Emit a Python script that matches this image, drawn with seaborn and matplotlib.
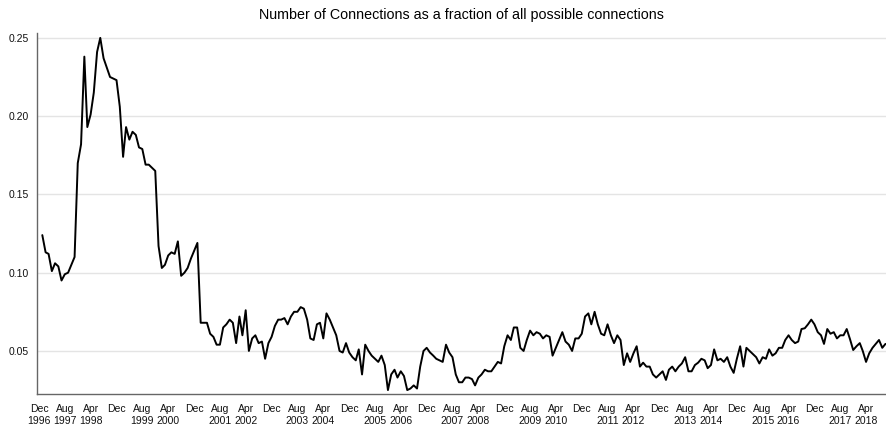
import matplotlib
matplotlib.use("Agg")
import matplotlib.pyplot as plt
import numpy as np
import pandas as pd
import seaborn as sns

# Monthly share of realised connections, Jan 1997 - Oct 2018
start_month = "1997-01-01"
fraction = [
    0.124, 0.113, 0.112, 0.101, 0.106, 0.104, 0.095, 0.099, 0.100, 0.105, 0.110, 0.170,
    0.182, 0.238, 0.193, 0.201, 0.215, 0.241, 0.250, 0.237, 0.231, 0.225, 0.224, 0.223,
    0.206, 0.174, 0.193, 0.185, 0.190, 0.188, 0.180, 0.179, 0.169, 0.169, 0.167, 0.165,
    0.117, 0.103, 0.105, 0.111, 0.113, 0.112, 0.120, 0.098, 0.100, 0.103, 0.109, 0.114,
    0.119, 0.068, 0.068, 0.068, 0.061, 0.059, 0.054, 0.054, 0.065, 0.067, 0.070, 0.068,
    0.055, 0.072, 0.060, 0.076, 0.050, 0.058, 0.060, 0.055, 0.056, 0.045, 0.055, 0.059,
    0.066, 0.070, 0.070, 0.071, 0.067, 0.072, 0.075, 0.075, 0.078, 0.077, 0.070, 0.058,
    0.057, 0.067, 0.068, 0.058, 0.074, 0.070, 0.065, 0.060, 0.050, 0.049, 0.055, 0.049,
    0.046, 0.044, 0.051, 0.035, 0.054, 0.050, 0.047, 0.045, 0.043, 0.047, 0.041, 0.025,
    0.035, 0.038, 0.033, 0.037, 0.034, 0.025, 0.026, 0.028, 0.026, 0.040, 0.050, 0.052,
    0.049, 0.047, 0.045, 0.044, 0.043, 0.054, 0.049, 0.046, 0.035, 0.030, 0.030, 0.033,
    0.033, 0.032, 0.028, 0.033, 0.035, 0.038, 0.037, 0.037, 0.040, 0.043, 0.042, 0.053,
    0.060, 0.057, 0.065, 0.065, 0.052, 0.050, 0.057, 0.063, 0.060, 0.062, 0.061, 0.058,
    0.060, 0.059, 0.047, 0.052, 0.057, 0.062, 0.056, 0.054, 0.050, 0.058, 0.058, 0.061,
    0.072, 0.074, 0.067, 0.075, 0.067, 0.061, 0.060, 0.067, 0.060, 0.055, 0.060, 0.057,
    0.041, 0.0485, 0.043, 0.0485, 0.053, 0.040, 0.0425, 0.040, 0.040, 0.035, 0.033, 0.035,
    0.037, 0.0315, 0.038, 0.040, 0.037, 0.040, 0.042, 0.046, 0.037, 0.037, 0.041, 0.0425,
    0.045, 0.044, 0.039, 0.041, 0.051, 0.044, 0.045, 0.043, 0.046, 0.040, 0.036, 0.045,
    0.053, 0.040, 0.052, 0.050, 0.048, 0.046, 0.042, 0.046, 0.045, 0.051, 0.047, 0.0485,
    0.052, 0.052, 0.057, 0.060, 0.057, 0.055, 0.056, 0.064, 0.0645, 0.067, 0.070, 0.067,
    0.062, 0.060, 0.0545, 0.064, 0.061, 0.062, 0.058, 0.060, 0.060, 0.064, 0.0575, 0.0506,
    0.053, 0.055, 0.050, 0.043, 0.0485, 0.052, 0.0545, 0.057, 0.052, 0.0545,
]
y_ticks = [0.05, 0.10, 0.15, 0.20, 0.25]
title = "Number of Connections as a fraction of all possible connections"

df = pd.DataFrame({
    "month": pd.date_range(start_month, periods=len(fraction), freq="MS"),
    "fraction": fraction,
})

sns.set_style("white")
plt.rcParams["font.family"] = ["Liberation Sans", "DejaVu Sans"]

fig = plt.figure(figsize=(8.86, 4.26), dpi=100)
ax = fig.add_axes([37 / 886, 32 / 426, 849 / 886, 361 / 426])

sns.lineplot(data=df, x="month", y="fraction", ax=ax, color="black", linewidth=1.4)

# x ticks every eight months, year shown on the first tick of each year
tick_dates = pd.date_range("1996-12-01", "2018-10-01", freq="8MS")
labels = []
prev_year = None
for d in tick_dates:
    if d.year != prev_year:
        labels.append(f"{d.strftime('%b')}\n{d.year}")
    else:
        labels.append(d.strftime("%b"))
    prev_year = d.year
ax.set_xticks(tick_dates)
ax.set_xticklabels(labels, fontsize=7.5, linespacing=1.3, color="#111111",
                   va="top")

ax.set_yticks(y_ticks)
ax.set_yticklabels([f"{v:.2f}" for v in y_ticks], fontsize=7.5, color="#111111")

ax.set_xlim(pd.Timestamp("1996-11-12"), df["month"].iloc[-1] + pd.Timedelta(days=5))
ax.set_ylim(0.0225, 0.2531)

ax.yaxis.grid(True, color="#e4e4e4", linewidth=1)
ax.xaxis.grid(False)
for side in ("top", "right"):
    ax.spines[side].set_visible(False)
for side in ("left", "bottom"):
    ax.spines[side].set_color("#666666")
    ax.spines[side].set_linewidth(1)
ax.tick_params(axis="both", direction="out", length=4, width=1, color="#666666", pad=2)
ax.tick_params(axis="x", pad=3)
ax.set_xlabel("")
ax.set_ylabel("")
ax.set_title(title, fontsize=10.3, pad=10, color="black")

fig.savefig("out.png", dpi=100)
